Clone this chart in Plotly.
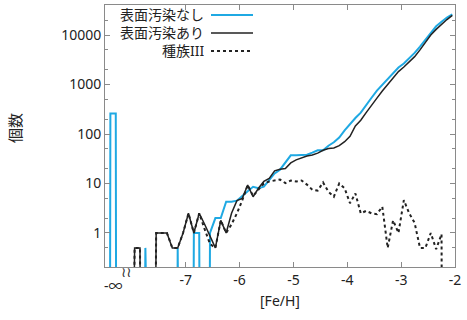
import plotly.graph_objects as go

# ---------------- data ----------------
# bin centres of [Fe/H]
fe_h = [-7.95, -7.85, -7.75, -7.65, -7.55, -7.45, -7.35, -7.25, -7.15, -7.05,
        -6.95, -6.85, -6.75, -6.65, -6.55, -6.45, -6.35, -6.25, -6.15, -6.05,
        -5.95, -5.85, -5.75, -5.65, -5.55, -5.45, -5.35, -5.25, -5.15, -5.05,
        -4.95, -4.85, -4.75, -4.65, -4.55, -4.45, -4.35, -4.25, -4.15, -4.05,
        -3.95, -3.85, -3.75, -3.65, -3.55, -3.45, -3.35, -3.25, -3.15, -3.05,
        -2.95, -2.85, -2.75, -2.65, -2.55, -2.45, -2.35, -2.25, -2.15, -2.05]

# "no surface pollution" (blue)
no_pollution = [0, 0, 0.5, 0, 0, 0, 0, 0, 0.5, 0,
                0, 1, 1, 0, 1, 2, 2, 4.3, 4.3, 4.5,
                5.5, 7, 8.6, 8, 8.6, 12, 16, 19, 27, 37,
                37, 37, 38, 42, 47, 47, 58, 68, 85, 118,
                160, 210, 270, 390, 540, 750, 980, 1300, 1720, 2200,
                2650, 3350, 4350, 5800, 8000, 11500, 15000, 18500, 22500, 26000]

# "with surface pollution" (black solid)
with_pollution = [0.5, 0.5, 0, 0, 1, 1, 1, 0.5, 0.5, 1,
                  2.5, 1, 2.5, 1.5, 0.85, 0.5, 1.8, 1, 2.5, 4.5,
                  5, 9.3, 5.4, 8, 11, 12.7, 18, 19.4, 20, 26,
                  30, 33, 36, 37.7, 41, 47, 51, 52, 58, 70,
                  90, 145, 190, 270, 390, 530, 740, 1000, 1400, 1820,
                  2250, 2800, 3650, 5000, 7000, 10000, 13000, 16500, 20500, 25000]

# Population III (black dotted)
pop3 = [0.5, 0.5, 0, 0, 1, 1, 1, 0.5, 0.5, 1,
        2.5, 1, 2.5, 1.2, 0.6, 0.5, 1.8, 1, 1.5, 2.5,
        4.6, 9.3, 5.6, 7.5, 10, 11, 11.5, 12, 10.2, 11.5,
        11, 11.5, 9.5, 7.5, 7.2, 10.5, 6.8, 5.4, 10, 8,
        4, 6.3, 2.5, 2.8, 2.5, 2.4, 3.4, 0.5, 1.8, 1,
        4.6, 2.5, 1.6, 0.5, 0.5, 1.0, 0.47, 0.95, 0, 0]

# the [Fe/H] = -infinity bin, drawn at the left of the axis break
neg_inf_x = [-8.45, -8.40, -8.30, -8.25]
neg_inf_no_pollution = [0, 260, 260, 0]
neg_inf_with_pollution = [0, 0, 0, 0]
neg_inf_pop3 = [0, 0, 0, 0]
neg_inf_label_pos = -8.35

x_ticks = [-7, -6, -5, -4, -3, -2]
x_ticktext = ["-7", "-6", "-5", "-4", "-3", "-2"]
y_ticks = [1, 10, 100, 1000, 10000]
y_ticktext = ["1", "10", "100", "1000", "10000"]
y_minor = [m * 10 ** e for e in range(-1, 5) for m in (2, 5)]

names = ["表面汚染なし", "表面汚染あり", "種族III"]
colors = ["#1fa9e3", "#222222", "#222222"]
dashes = ["solid", "solid", "dot"]
widths = [2, 1.5, 2]

FLOOR = 1e-30  # zero counts drop off the bottom of the log axis


def floor(vals):
    return [v if v > 0 else FLOOR for v in vals]


series = [neg_inf_no_pollution + no_pollution,
          neg_inf_with_pollution + with_pollution,
          neg_inf_pop3 + pop3]
x_all = neg_inf_x + fe_h

FONT = "Noto Sans, Noto Sans CJK JP, sans-serif"
AX = "#8a8a8a"

fig = go.Figure()
for name, vals, c, d, w in zip(names, series, colors, dashes, widths):
    fig.add_trace(go.Scatter(x=x_all, y=floor(vals), mode="lines", name=name,
                             line=dict(color=c, dash=d, width=w),
                             showlegend=False))

W, H = 467, 320
ML, MR, MT, MB = 105, 12, 5, 53
pw, ph = W - ML - MR, H - MT - MB


def px2paper(px, py):
    return (px - ML) / pw, (H - MB - py) / ph


annotations = []
shapes = []
# custom legend: text right aligned, sample line to the right (gnuplot style)
rows_y = [15, 33, 51]
for name, c, d, w, ry in zip(names, colors, dashes, widths, rows_y):
    tx, ty = px2paper(205, ry)
    annotations.append(dict(text=name, x=tx, y=ty, xref="paper", yref="paper",
                            xanchor="right", yanchor="middle", showarrow=False,
                            height=15, borderpad=0,
                            font=dict(family=FONT, size=14, color="#222")))
    x0, y0 = px2paper(211, ry)
    x1, _ = px2paper(253, ry)
    shapes.append(dict(type="line", xref="paper", yref="paper", x0=x0, x1=x1,
                       y0=y0, y1=y0, line=dict(color=c, dash=d, width=w)))

# -infinity label
annotations.append(dict(text="-∞", x=neg_inf_label_pos, y=0, xref="x", yref="paper",
                        xanchor="center", yanchor="top", yshift=-7, showarrow=False,
                        font=dict(family=FONT, size=14, color="#222")))
# axis break marker
annotations.append(dict(text="≀≀", x=-8.1, y=0, xref="x", yref="paper",
                        xanchor="center", yanchor="middle", yshift=-5, showarrow=False,
                        font=dict(family="DejaVu Sans", size=14, color="#333")))
# y title
yx, yy = px2paper(15, 128)
annotations.append(dict(text="個数", x=yx, y=yy, xref="paper", yref="paper",
                        textangle=-90, showarrow=False, xanchor="center", yanchor="middle",
                        font=dict(family=FONT, size=15, color="#222")))

fig.update_layout(
    width=W, height=H,
    margin=dict(l=ML, r=MR, t=MT, b=MB),
    paper_bgcolor="white", plot_bgcolor="white",
    font=dict(family=FONT, size=14, color="#222"),
    annotations=annotations, shapes=shapes,
    xaxis=dict(range=[-8.5, -2], tickvals=x_ticks, ticktext=x_ticktext,
               ticks="inside", ticklen=5, tickcolor=AX, showline=True, linecolor=AX,
               linewidth=1, mirror="ticks", showgrid=False, zeroline=False,
               tickfont=dict(size=14),
               title=dict(text="[Fe/H]", font=dict(size=14), standoff=8)),
    yaxis=dict(type="log", range=[-0.687, 4.606], tickvals=y_ticks, ticktext=y_ticktext,
               ticks="inside", ticklen=5, tickcolor=AX, showline=True, linecolor=AX,
               linewidth=1, mirror="ticks", showgrid=False, zeroline=False,
               tickfont=dict(size=14),
               minor=dict(tickvals=y_minor, ticks="inside", ticklen=3, tickcolor=AX,
                          showgrid=False)),
)

fig.write_html("out.html")
